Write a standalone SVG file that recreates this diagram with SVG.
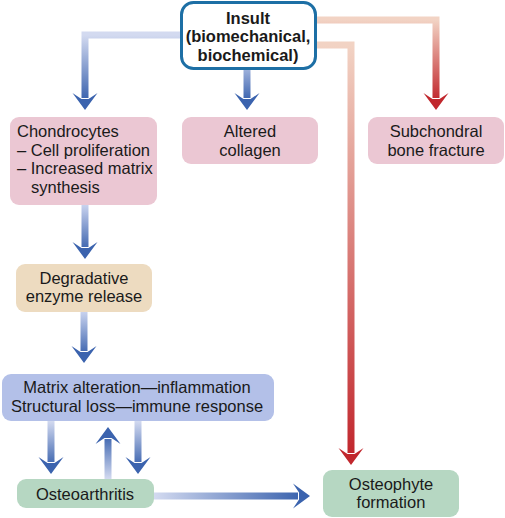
<svg xmlns="http://www.w3.org/2000/svg" width="505" height="518" viewBox="0 0 505 518">
<style>
text{font-family:"Liberation Sans",Arial,sans-serif;font-size:16.5px;fill:#1a1a1a}
.c{text-anchor:middle}
.b{font-weight:bold}
.pink{fill:#ebc7d3}
.tan{fill:#eddbc0}
.blu{fill:#b3c0e8}
.grn{fill:#b6d7c2}
.ln{fill:none;stroke-width:7}
</style>
<defs>
<path id="ah" d="M0,0 L-12.5,-17 L-3.5,-11 L3.5,-11 L12.5,-17 Z"/>
<linearGradient id="gL" gradientUnits="userSpaceOnUse" x1="0" y1="35" x2="0" y2="100"><stop offset="0" stop-color="#d3daf0"/><stop offset="1" stop-color="#3b63ae"/></linearGradient>
<linearGradient id="gM" gradientUnits="userSpaceOnUse" x1="0" y1="69" x2="0" y2="100"><stop offset="0" stop-color="#9fb2dc"/><stop offset="1" stop-color="#3b63ae"/></linearGradient>
<linearGradient id="gR1" gradientUnits="userSpaceOnUse" x1="0" y1="20" x2="0" y2="100"><stop offset="0" stop-color="#f2d3c4"/><stop offset="1" stop-color="#c1272d"/></linearGradient>
<linearGradient id="gR2" gradientUnits="userSpaceOnUse" x1="0" y1="45" x2="0" y2="455"><stop offset="0" stop-color="#f2d3c4"/><stop offset="1" stop-color="#c1272d"/></linearGradient>
<linearGradient id="gC" gradientUnits="userSpaceOnUse" x1="0" y1="205" x2="0" y2="250"><stop offset="0" stop-color="#c8d2ee"/><stop offset="1" stop-color="#3b63ae"/></linearGradient>
<linearGradient id="gD" gradientUnits="userSpaceOnUse" x1="0" y1="312" x2="0" y2="355"><stop offset="0" stop-color="#c8d2ee"/><stop offset="1" stop-color="#3b63ae"/></linearGradient>
<linearGradient id="gDn" gradientUnits="userSpaceOnUse" x1="0" y1="421" x2="0" y2="466"><stop offset="0" stop-color="#d3daf0"/><stop offset="1" stop-color="#3b63ae"/></linearGradient>
<linearGradient id="gUp" gradientUnits="userSpaceOnUse" x1="0" y1="479" x2="0" y2="435"><stop offset="0" stop-color="#d3daf0"/><stop offset="1" stop-color="#3b63ae"/></linearGradient>
<linearGradient id="gH" gradientUnits="userSpaceOnUse" x1="154" y1="0" x2="300" y2="0"><stop offset="0" stop-color="#d3daf0"/><stop offset="1" stop-color="#3b63ae"/></linearGradient>
</defs>
<g id="connectors">
<path class="ln" stroke="url(#gL)" d="M180,35 H85 V98"/>
<use href="#ah" transform="translate(85,110)" fill="#3b63ae"/>
<path class="ln" stroke="url(#gM)" d="M247,69 V98"/>
<use href="#ah" transform="translate(247,110)" fill="#3b63ae"/>
<path class="ln" stroke="url(#gR1)" d="M316,20 H436 V98"/>
<use href="#ah" transform="translate(436,110)" fill="#c1272d"/>
<path class="ln" stroke="url(#gR2)" d="M316,45 H351 V453"/>
<use href="#ah" transform="translate(351,465)" fill="#c1272d"/>
<path class="ln" stroke="url(#gC)" d="M85,205 V247"/>
<use href="#ah" transform="translate(85,259)" fill="#3b63ae"/>
<path class="ln" stroke="url(#gD)" d="M84,312 V351"/>
<use href="#ah" transform="translate(84,363)" fill="#3b63ae"/>
<path class="ln" stroke="url(#gDn)" d="M51,421 V462"/>
<use href="#ah" transform="translate(51,474)" fill="#3b63ae"/>
<path class="ln" stroke="url(#gDn)" d="M138,421 V462"/>
<use href="#ah" transform="translate(138,474)" fill="#3b63ae"/>
<path class="ln" stroke="url(#gUp)" d="M108,479 V439"/>
<use href="#ah" transform="translate(108,427) rotate(180)" fill="#3b63ae"/>
<path class="ln" stroke="url(#gH)" d="M154,496 H298"/>
<use href="#ah" transform="translate(310,496) rotate(-90)" fill="#3b63ae"/>
</g>
<g id="insult">
<rect x="181.5" y="2.5" width="134" height="66" rx="12" fill="#fff" stroke="#1d6fa5" stroke-width="3"/>
<text class="c b" x="248" y="23.5">Insult</text>
<text class="c b" x="248" y="42">(biomechanical,</text>
<text class="c b" x="248" y="60.5">biochemical)</text>
</g>
<g id="chondrocytes">
<rect class="pink" x="10" y="117" width="147" height="88" rx="9"/>
<text x="17" y="137">Chondrocytes</text>
<text x="17" y="155.5">– Cell proliferation</text>
<text x="17" y="174">– Increased matrix</text>
<text x="31" y="192.5">synthesis</text>
</g>
<g id="collagen">
<rect class="pink" x="182" y="117" width="136" height="47" rx="9"/>
<text class="c" x="250" y="137">Altered</text>
<text class="c" x="250" y="155.5">collagen</text>
</g>
<g id="fracture">
<rect class="pink" x="368" y="117" width="136" height="47" rx="9"/>
<text class="c" x="436" y="137">Subchondral</text>
<text class="c" x="436" y="155.5">bone fracture</text>
</g>
<g id="degradative">
<rect class="tan" x="16" y="264" width="136" height="48" rx="9"/>
<text class="c" x="84" y="283.5">Degradative</text>
<text class="c" x="84" y="302">enzyme release</text>
</g>
<g id="matrix">
<rect class="blu" x="2" y="374" width="272" height="47" rx="9"/>
<text class="c" x="137" y="393">Matrix alteration—inflammation</text>
<text class="c" x="137" y="411.5">Structural loss—immune response</text>
</g>
<g id="osteoarthritis">
<rect class="grn" x="17" y="479" width="137" height="29" rx="9"/>
<text class="c" x="85" y="499.5">Osteoarthritis</text>
</g>
<g id="osteophyte">
<rect class="grn" x="323" y="470" width="136" height="47" rx="9"/>
<text class="c" x="391" y="490">Osteophyte</text>
<text class="c" x="391" y="508">formation</text>
</g>
</svg>
